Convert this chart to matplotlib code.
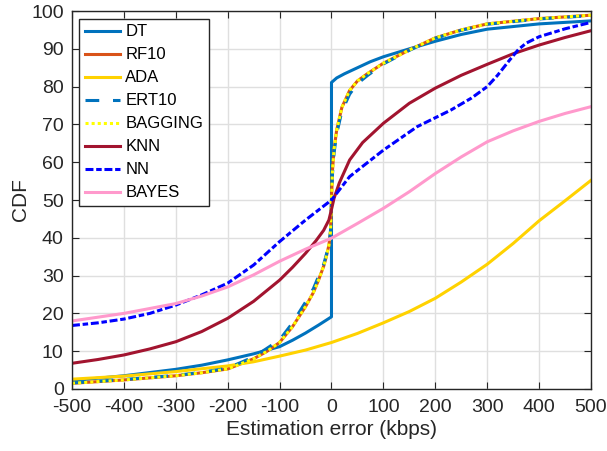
import matplotlib
matplotlib.use('Agg')
import matplotlib.pyplot as plt

plt.rcParams['font.family'] = ['Liberation Sans', 'DejaVu Sans']
plt.rcParams['axes.unicode_minus'] = False

# values (estimation error in kbps, CDF in %)
dt_x = [-500, -400, -300, -250, -200, -150, -100, -75, -50, -25, 0, 0, 10, 25, 50, 75, 100, 150, 200, 250, 300, 400, 500]
dt_y = [2.2, 3.5, 5.2, 6.3, 7.7, 9.3, 11.2, 12.9, 14.8, 16.9, 19.1, 81.1, 82.3, 83.4, 85.0, 86.6, 87.9, 90.0, 92.0, 93.8, 95.2, 96.6, 97.4]

rf_x = [-500, -400, -300, -250, -200, -150, -125, -100, -75, -50, -35, -25, -15, -10, -5, -2, 0, 2, 5, 10, 20, 35, 50, 70, 100, 150, 200, 250, 300, 400, 500]
rf_y = [1.5, 2.4, 3.5, 4.3, 5.3, 8.0, 9.9, 12.3, 16.5, 21.8, 25.5, 28.8, 32.5, 35.0, 38.0, 41.5, 50.0, 58.0, 63.5, 68.5, 74.5, 79.0, 81.5, 83.5, 86.2, 89.7, 92.9, 95.0, 96.6, 98.0, 98.9]

ert_x = [-500, -400, -300, -250, -200, -150, -125, -100, -75, -50, -35, -25, -15, -10, -5, -2, 0, 2, 5, 10, 20, 35, 50, 70, 100, 150, 200, 250, 300, 400, 500]
ert_y = [1.6, 2.5, 3.6, 4.4, 5.5, 8.5, 10.7, 13.0, 17.5, 23.0, 26.5, 29.8, 33.0, 35.5, 38.3, 41.5, 50.0, 57.0, 62.5, 67.5, 73.5, 78.0, 80.8, 83.0, 86.0, 89.6, 92.8, 94.9, 96.5, 97.9, 98.8]

bag_x = rf_x
bag_y = rf_y

ada_x = [-500, -400, -300, -200, -150, -100, -50, 0, 50, 100, 150, 200, 250, 300, 350, 400, 450, 500]
ada_y = [2.6, 3.4, 4.6, 6.1, 7.2, 8.7, 10.3, 12.3, 14.7, 17.5, 20.5, 24.0, 28.3, 33.0, 38.5, 44.5, 49.8, 55.2]

knn_x = [-500, -450, -400, -350, -300, -250, -200, -150, -100, -75, -50, -30, -15, -5, 0, 5, 15, 35, 60, 100, 150, 200, 250, 300, 350, 400, 450, 500]
knn_y = [6.8, 7.8, 9.0, 10.6, 12.5, 15.2, 18.7, 23.2, 28.8, 32.2, 35.9, 39.2, 42.0, 44.7, 47.5, 50.5, 54.5, 60.6, 65.2, 70.3, 75.6, 79.6, 83.0, 85.9, 88.7, 91.0, 93.0, 94.8]

nn_x = [-500, -450, -400, -350, -300, -250, -200, -150, -100, -50, 0, 35, 100, 165, 230, 270, 300, 320, 343, 360, 375, 400, 450, 500]
nn_y = [16.8, 17.5, 18.5, 20.0, 22.2, 24.9, 28.0, 32.8, 39.0, 44.7, 50.0, 56.2, 63.2, 69.4, 73.8, 77.0, 80.0, 83.0, 87.0, 89.8, 91.5, 93.2, 95.3, 97.0]

bayes_x = [-500, -400, -300, -250, -200, -150, -100, -50, 0, 50, 100, 150, 200, 250, 300, 350, 400, 450, 500]
bayes_y = [18.0, 20.0, 22.6, 24.6, 27.0, 30.2, 33.8, 37.0, 39.9, 43.8, 47.8, 52.2, 57.0, 61.4, 65.4, 68.3, 70.8, 72.9, 74.7]

fig = plt.figure(figsize=(6.07, 4.51), dpi=100)
ax = fig.add_axes([0.1186, 0.1375, 0.855, 0.838])

lw = 2.2
ax.plot(dt_x, dt_y, color='#0072BD', lw=lw, label='DT')
ax.plot(rf_x, rf_y, color='#D95319', lw=lw, label='RF10')
ax.plot(ada_x, ada_y, color='#FFD200', lw=lw, label='ADA')
ax.plot(ert_x, ert_y, color='#0072BD', lw=lw, ls=(0, (4.5, 4.5)), label='ERT10')
ax.plot(bag_x, bag_y, color='#FFFF00', lw=lw, ls=(0, (1, 1)), label='BAGGING')
ax.plot(knn_x, knn_y, color='#A2142F', lw=lw, label='KNN')
ax.plot(nn_x, nn_y, color='#0000FF', lw=lw, ls=(0, (2.6, 0.9, 1.8, 0.9)), label='NN')
ax.plot(bayes_x, bayes_y, color='#FF99CC', lw=lw, label='BAYES')

ax.set_xlim(-500, 500)
ax.set_ylim(0, 100)
ax.set_xticks(range(-500, 501, 100))
ax.set_yticks(range(0, 101, 10))
ax.grid(True, color='#DFDFDF', lw=1)
ax.set_axisbelow(True)
ax.tick_params(direction='in', top=True, right=True, labelsize=14, colors='#262626', length=5)
ax.tick_params(axis='x', pad=7)
ax.tick_params(axis='y', pad=6)
for s in ax.spines.values():
    s.set_color('#262626')
    s.set_linewidth(1)
ax.set_xlabel('Estimation error (kbps)', fontsize=15, color='#262626', labelpad=3)
ax.set_ylabel('CDF', fontsize=15, color='#262626', labelpad=1)

leg = ax.legend(loc='upper left', fontsize=12, handlelength=2.1, handletextpad=0.3,
                labelspacing=0.48, borderpad=0.35, fancybox=False, framealpha=1,
                edgecolor='#262626', borderaxespad=0.45)
leg.get_frame().set_linewidth(1)

fig.savefig('out.png', dpi=100)
